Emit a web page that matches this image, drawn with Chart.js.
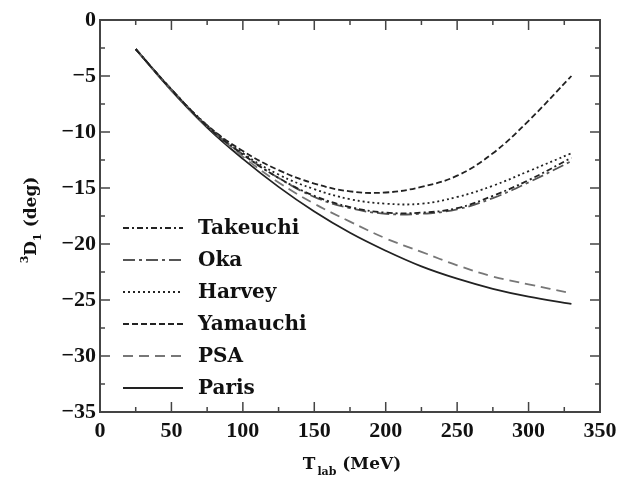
<!DOCTYPE html>
<html>
<head>
<meta charset="utf-8">
<script src="https://cdn.jsdelivr.net/npm/chart.js@4.4.1/dist/chart.umd.min.js"></script>
<style>
html,body{margin:0;padding:0;background:#fff;}
#wrap{width:618px;height:485px;}
</style>
</head>
<body>
<div id="wrap"><canvas id="c" width="618" height="485"></canvas></div>
<script>
const T = [25, 50, 75, 100, 125, 150, 175, 200, 225, 250, 275, 300, 330];
const takeuchi = [-2.6, -6.2, -9.5, -12.0, -14.1, -15.7, -16.7, -17.2, -17.2, -16.8, -15.7, -14.3, -12.3];
const oka      = [-2.6, -6.2, -9.5, -12.0, -14.1, -15.8, -16.8, -17.3, -17.3, -16.9, -15.9, -14.5, -12.6];
const harvey   = [-2.6, -6.2, -9.4, -11.9, -13.8, -15.1, -16.0, -16.4, -16.4, -15.8, -14.8, -13.5, -11.9];
const yamauchi = [-2.6, -6.2, -9.4, -11.7, -13.4, -14.6, -15.3, -15.4, -14.9, -13.9, -11.9, -9.0, -5.0];
const psa      = [-2.6, -6.3, -9.5, -12.2, -14.5, -16.4, -18.0, -19.5, -20.7, -21.9, -22.9, -23.6, -24.4];
const paris    = [-2.6, -6.3, -9.6, -12.4, -14.9, -17.1, -19.0, -20.6, -22.0, -23.1, -24.0, -24.7, -25.35];
const seriesNames = ["Takeuchi", "Oka", "Harvey", "Yamauchi", "PSA", "Paris"];
const xTicks = [0, 50, 100, 150, 200, 250, 300, 350];
const yTicks = [0, -5, -10, -15, -20, -25, -30, -35];

const styles = [
  {color:'#222', dash:[6,3,2,3]},
  {color:'#555', dash:[12,4,3,4]},
  {color:'#222', dash:[2,3]},
  {color:'#222', dash:[6,3]},
  {color:'#777', dash:[10,6]},
  {color:'#222', dash:[]}
];
const seriesData = [takeuchi, oka, harvey, yamauchi, psa, paris];

const datasets = seriesData.map((vals, i) => ({
  label: seriesNames[i],
  data: T.map((t, j) => ({x: t, y: vals[j]})),
  borderColor: styles[i].color,
  borderDash: styles[i].dash,
  borderWidth: 1.8,
  pointRadius: 0,
  fill: false,
  tension: 0.4
}));

const tickFont = {family: 'Liberation Serif', size: 22, weight: 'bold'};

const framePlugin = {
  id: 'frame',
  afterDraw(chart) {
    const ctx = chart.ctx, a = chart.chartArea;
    const xs = chart.scales.x, ys = chart.scales.y;
    ctx.save();
    ctx.strokeStyle = '#444';
    ctx.lineWidth = 2;
    ctx.setLineDash([]);
    ctx.strokeRect(a.left, a.top, a.right - a.left, a.bottom - a.top);
    ctx.lineWidth = 1.5;
    for (let v = 0; v <= 350; v += 25) {
      const px = xs.getPixelForValue(v);
      const len = (v % 50 === 0) ? 10 : 5;
      ctx.beginPath();
      ctx.moveTo(px, a.bottom); ctx.lineTo(px, a.bottom - len);
      ctx.moveTo(px, a.top); ctx.lineTo(px, a.top + len);
      ctx.stroke();
    }
    for (let v = 0; v >= -35; v -= 2.5) {
      const py = ys.getPixelForValue(v);
      const len = (v % 5 === 0) ? 10 : 5;
      ctx.beginPath();
      ctx.moveTo(a.left, py); ctx.lineTo(a.left + len, py);
      ctx.moveTo(a.right, py); ctx.lineTo(a.right - len, py);
      ctx.stroke();
    }
    // legend
    const lx0 = a.left + 23, lx1 = a.left + 83, tx = a.left + 98;
    ctx.font = 'bold 20px "DejaVu Serif"';
    ctx.textBaseline = 'middle';
    ctx.fillStyle = '#111';
    chart.data.datasets.forEach((ds, i) => {
      const y = 228 + 32 * i;
      ctx.beginPath();
      ctx.strokeStyle = ds.borderColor;
      ctx.lineWidth = 2;
      ctx.setLineDash(ds.borderDash);
      ctx.moveTo(lx0, y); ctx.lineTo(lx1, y);
      ctx.stroke();
      ctx.setLineDash([]);
      ctx.fillText(ds.label, tx, y + 1);
    });
    // x title
    ctx.fillStyle = '#111';
    ctx.textBaseline = 'alphabetic';
    const cx = (a.left + a.right) / 2;
    ctx.font = 'bold 17px "DejaVu Serif"';
    const wT = ctx.measureText('T').width;
    ctx.font = 'bold 11px "DejaVu Serif"';
    const wLab = ctx.measureText('lab').width;
    ctx.font = 'bold 17px "DejaVu Serif"';
    const wM = ctx.measureText(' (MeV)').width;
    let x0 = cx - (wT + 2 + wLab + wM) / 2 + 2;
    const by = 469;
    ctx.fillText('T', x0, by);
    ctx.font = 'bold 11px "DejaVu Serif"';
    ctx.fillText('lab', x0 + wT + 2, by + 6);
    ctx.font = 'bold 17px "DejaVu Serif"';
    ctx.fillText(' (MeV)', x0 + wT + 2 + wLab, by);
    // y title
    ctx.save();
    const cy = (a.top + a.bottom) / 2 + 4;
    ctx.translate(36, cy);
    ctx.rotate(-Math.PI / 2);
    ctx.font = 'bold 11px "DejaVu Serif"';
    const w3 = ctx.measureText('3').width;
    const w1 = ctx.measureText('1').width;
    ctx.font = 'bold 17px "DejaVu Serif"';
    const wD = ctx.measureText('D').width;
    const wdeg = ctx.measureText(' (deg)').width;
    let s = -(w3 + wD + w1 + wdeg) / 2;
    ctx.font = 'bold 11px "DejaVu Serif"';
    ctx.fillText('3', s, -8);
    ctx.font = 'bold 17px "DejaVu Serif"';
    ctx.fillText('D', s + w3, 0);
    ctx.font = 'bold 11px "DejaVu Serif"';
    ctx.fillText('1', s + w3 + wD, 5);
    ctx.font = 'bold 17px "DejaVu Serif"';
    ctx.fillText(' (deg)', s + w3 + wD + w1, 0);
    ctx.restore();
    ctx.restore();
  }
};

new Chart(document.getElementById('c'), {
  type: 'line',
  data: {datasets},
  options: {
    responsive: false,
    animation: false,
    events: [],
    layout: {autoPadding: false, padding: {left: 0, right: 18, top: 20, bottom: 0}},
    plugins: {legend: {display: false}, tooltip: {enabled: false}},
    scales: {
      x: {
        type: 'linear', min: 0, max: 350,
        afterBuildTicks: s => { s.ticks = xTicks.map(v => ({value: v})); },
        afterFit: s => { s.height = 73; s.paddingLeft = 0; s.paddingRight = 0; },
        grid: {display: false, drawTicks: false},
        border: {display: false},
        ticks: {color: '#111', font: tickFont, padding: 6, maxRotation: 0, autoSkip: false}
      },
      y: {
        type: 'linear', min: -35, max: 0,
        afterBuildTicks: s => { s.ticks = yTicks.map(v => ({value: v})); },
        afterFit: s => { s.width = 100; s.paddingTop = 0; s.paddingBottom = 0; },
        grid: {display: false, drawTicks: false},
        border: {display: false},
        ticks: {color: '#111', font: tickFont, padding: 4, autoSkip: false,
          callback: v => String(v).replace('-', '\u2212')}
      }
    }
  },
  plugins: [framePlugin]
});
</script>
</body>
</html>
